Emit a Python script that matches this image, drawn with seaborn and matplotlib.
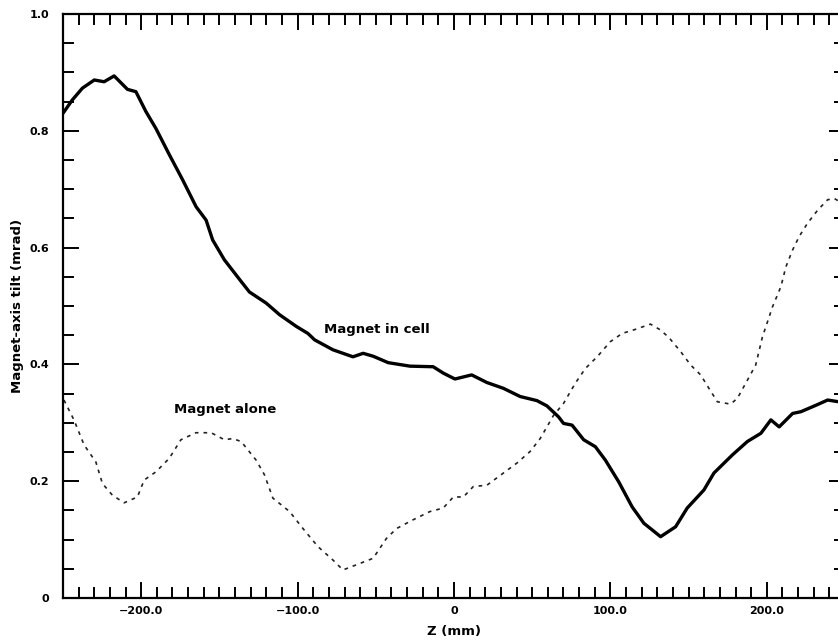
import matplotlib
matplotlib.use("Agg")
import matplotlib.pyplot as plt
import seaborn as sns
from matplotlib.ticker import MultipleLocator

# Magnet in cell (solid)
z_cell = [-250, -244, -237.6, -230, -223.7, -217.3, -208.8, -203.4, -197, -190.6,
          -182, -173.5, -164.9, -158.5, -154.3, -146.8, -136.1, -130.8, -120.1, -111.5,
          -100.8, -93.4, -89.1, -77.4, -64.6, -58.1, -51.7, -42.1, -28.2, -13.3,
          -6.8, 0.6, 11.3, 21, 31.6, 42.3, 53, 59.4, 66.9, 70, 75.5,
          82.9, 90.4, 96.8, 105.3, 113.9, 121.4, 132.1, 141.7, 149.1, 159.8,
          166.2, 178, 187.6, 196.2, 202.6, 207.9, 216.5, 221.8, 231.4, 238.9, 246]
tilt_cell = [0.830, 0.853, 0.873, 0.887, 0.884, 0.894, 0.871, 0.867, 0.833, 0.804,
             0.759, 0.716, 0.670, 0.647, 0.613, 0.579, 0.542, 0.524, 0.505, 0.485,
             0.465, 0.453, 0.442, 0.425, 0.413, 0.419, 0.414, 0.403, 0.397, 0.396,
             0.385, 0.375, 0.382, 0.369, 0.359, 0.345, 0.338, 0.329, 0.310, 0.299, 0.296,
             0.271, 0.259, 0.236, 0.199, 0.156, 0.128, 0.105, 0.122, 0.154, 0.185,
             0.214, 0.245, 0.268, 0.282, 0.305, 0.293, 0.316, 0.319, 0.330, 0.339, 0.336]

# Magnet alone (dotted)
z_alone = [-249.4, -243, -236.5, -229, -224.8, -218.4, -210.9, -202.4, -198.1, -190.6,
           -182.1, -174.6, -165, -155.3, -146.8, -141.5, -136.1, -126.5, -121.2, -115.8,
           -105.1, -96.6, -87, -77.4, -71, -60.3, -51.7, -43.2, -36.7, -26.1,
           -15.4, -6.9, -0.4, 6, 12.4, 21, 31.6, 40.2, 48.7, 55.1, 63.7, 70,
           77.6, 84, 91.5, 100, 107.5, 116, 125.6, 132, 137.4, 144.9, 151.3,
           157.7, 163, 168.4, 176.9, 181.2, 187.6, 192.9, 197.2, 203.7, 209,
           212.2, 216.5, 220.7, 226.1, 232.5, 238.9, 243.2, 246.4]
tilt_alone = [0.339, 0.305, 0.262, 0.233, 0.196, 0.176, 0.163, 0.173, 0.202, 0.216,
              0.239, 0.271, 0.283, 0.283, 0.271, 0.273, 0.268, 0.236, 0.211, 0.171,
              0.148, 0.119, 0.088, 0.065, 0.048, 0.059, 0.068, 0.102, 0.119, 0.134,
              0.148, 0.154, 0.173, 0.173, 0.191, 0.193, 0.214, 0.231, 0.251, 0.273, 0.313, 0.333,
              0.368, 0.393, 0.413, 0.439, 0.453, 0.460, 0.469, 0.459, 0.446, 0.422, 0.399,
              0.382, 0.359, 0.336, 0.332, 0.342, 0.373, 0.399, 0.447, 0.499, 0.533,
              0.567, 0.596, 0.619, 0.642, 0.664, 0.682, 0.684, 0.679]

xtick_vals = [-200, -100, 0, 100, 200]
xtick_labels = ["\u2212200.0", "\u2212100.0", "0", "100.0", "200.0"]
ytick_vals = [0, 0.2, 0.4, 0.6, 0.8, 1.0]
ytick_labels = ["0", "0.2", "0.4", "0.6", "0.8", "1.0"]

sns.set_style("ticks")
plt.rcParams['font.family'] = ['DejaVu Sans']
plt.rcParams['font.weight'] = 'bold'
plt.rcParams['text.color'] = 'black'
plt.rcParams['axes.labelcolor'] = 'black'

fig = plt.figure(figsize=(8.38, 6.41), dpi=100)
ax = fig.add_axes([63/838, 43/641, 782/838, 584/641])

sns.lineplot(x=z_cell, y=tilt_cell, ax=ax, color='black', linewidth=2.4, estimator=None)
sns.lineplot(x=z_alone, y=tilt_alone, ax=ax, color='#222222', linewidth=1.2,
             linestyle=(0, (2.2, 3.0)), estimator=None)

ax.set_xlim(-250, 250)
ax.set_ylim(0, 1.0)
ax.set_xticks(xtick_vals)
ax.set_xticklabels(xtick_labels)
ax.set_yticks(ytick_vals)
ax.set_yticklabels(ytick_labels)
ax.xaxis.set_minor_locator(MultipleLocator(10))
ax.yaxis.set_minor_locator(MultipleLocator(0.05))

ax.tick_params(which='both', direction='in', top=True, right=True, width=1.4,
               labelsize=8, colors='black')
ax.tick_params(which='major', length=11.5)
ax.tick_params(which='minor', length=8)
ax.tick_params(axis='y', pad=10)
ax.tick_params(axis='x', pad=6)

for s in ['left', 'bottom', 'top']:
    ax.spines[s].set_linewidth(1.6)
    ax.spines[s].set_color('black')
ax.spines['right'].set_visible(False)

ax.set_xlabel("Z (mm)", fontsize=9.5, fontweight='bold', labelpad=6)
ax.set_ylabel("Magnet-axis tilt (mrad)", fontsize=9.5, fontweight='bold', labelpad=4)

ax.text(-83, 0.459, "Magnet in cell", fontsize=9.5, fontweight='bold', va='center', color='black')
ax.text(-179, 0.322, "Magnet alone", fontsize=9.5, fontweight='bold', va='center', color='black')

fig.savefig("out.png", dpi=100)
